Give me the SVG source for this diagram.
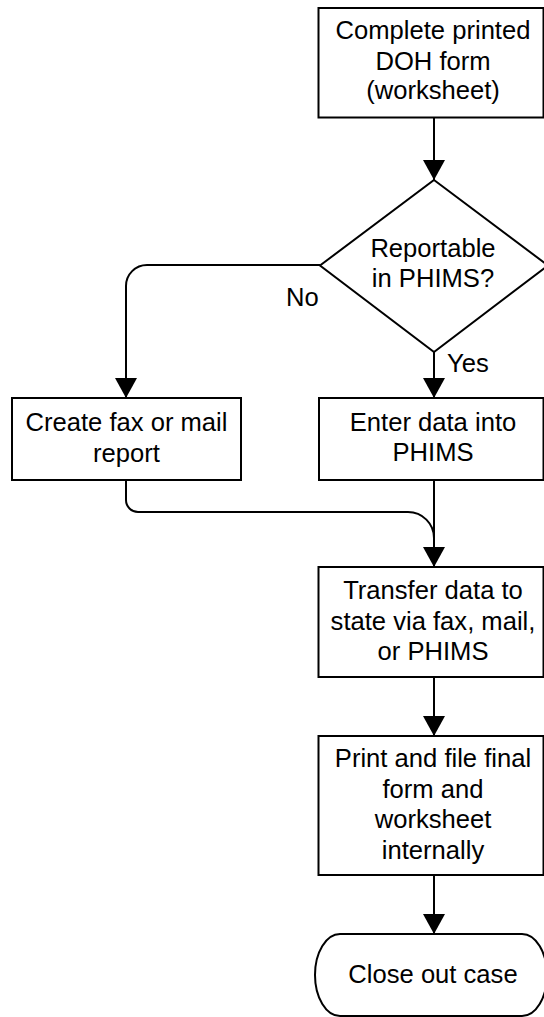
<svg xmlns="http://www.w3.org/2000/svg" width="544" height="1017" viewBox="0 0 544 1017">
<style>
.shape{fill:#fff;stroke:#000;stroke-width:2}
.conn{fill:none;stroke:#000;stroke-width:2}
text{font-family:"Liberation Sans",Arial,sans-serif;font-size:25.6px;fill:#000}
.c{text-anchor:middle}
</style>
<defs>
<marker id="arr" viewBox="0 0 20 22" refX="20" refY="11" markerWidth="20" markerHeight="22" orient="auto" markerUnits="userSpaceOnUse">
<path d="M0,0 L20,11 L0,22 Z" fill="#000"/>
</marker>
</defs>
<rect width="544" height="1017" fill="#fff"/>
<g id="connectors">
<path class="conn" d="M434,117.5 L434,180" marker-end="url(#arr)"/>
<path class="conn" d="M434,352 L434,398" marker-end="url(#arr)"/>
<path class="conn" d="M320,265 L147,265 A21,21 0 0 0 126,286 L126,398" marker-end="url(#arr)"/>
<path class="conn" d="M434,480 L434,567" marker-end="url(#arr)"/>
<path class="conn" d="M126,480 L126,500 A12,12 0 0 0 138,512 L408,512 A26,26 0 0 1 434,538"/>
<path class="conn" d="M434,677 L434,736" marker-end="url(#arr)"/>
<path class="conn" d="M434,875 L434,934" marker-end="url(#arr)"/>
<text x="286" y="306">No</text>
<text x="447" y="372">Yes</text>
</g>
<g id="start">
<rect class="shape" x="318.5" y="8" width="225" height="109.5"/>
<text class="c" x="433" y="39">Complete printed</text>
<text class="c" x="433" y="70">DOH form</text>
<text class="c" x="433" y="99">(worksheet)</text>
</g>
<g id="decision">
<path class="shape" d="M434,180 L548,265.5 L434,352 L320,265.5 Z"/>
<text class="c" x="433" y="257">Reportable</text>
<text class="c" x="433" y="287">in PHIMS?</text>
</g>
<g id="fax">
<rect class="shape" x="12" y="398" width="229" height="82"/>
<text class="c" x="126.5" y="431">Create fax or mail</text>
<text class="c" x="126.5" y="462">report</text>
</g>
<g id="enter">
<rect class="shape" x="319" y="398" width="224.5" height="82"/>
<text class="c" x="433" y="431">Enter data into</text>
<text class="c" x="433" y="461">PHIMS</text>
</g>
<g id="transfer">
<rect class="shape" x="318.5" y="567" width="225" height="110"/>
<text class="c" x="433" y="599">Transfer data to</text>
<text class="c" x="433" y="629.5">state via fax, mail,</text>
<text class="c" x="433" y="660">or PHIMS</text>
</g>
<g id="print">
<rect class="shape" x="318.5" y="736" width="225" height="139"/>
<text class="c" x="433" y="767">Print and file final</text>
<text class="c" x="433" y="797.5">form and</text>
<text class="c" x="433" y="828">worksheet</text>
<text class="c" x="433" y="858.5">internally</text>
</g>
<g id="end">
<rect class="shape" x="315" y="934" width="232" height="82" rx="25" ry="41"/>
<text class="c" x="433" y="983">Close out case</text>
</g>
</svg>
